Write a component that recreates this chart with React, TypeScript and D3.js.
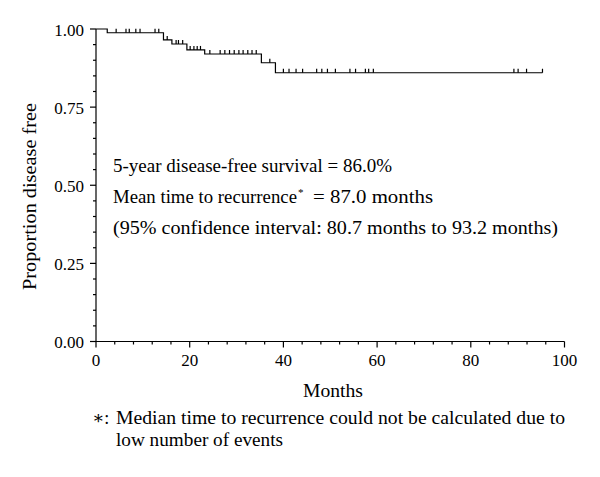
import React from "react";
import * as d3 from "d3";

// Kaplan-Meier steps: time of each drop and proportion after it
const stepTimes = [0, 2.4, 14.4, 16.2, 19.4, 23.2, 35.3, 38.3];
const stepValues = [1.0, 0.988, 0.965, 0.952, 0.933, 0.92, 0.892, 0.86];
// censored observations (tick marks)
const censorTimes = [
  4.3, 6.4, 7.1, 8.5, 9.4, 12.6, 13.4, 15.2, 17.1, 17.6, 18.5, 20.1, 20.9,
  21.6, 22.3, 24.3, 26.5, 27.5, 28.5, 29.5, 30.5, 31.4, 32.4, 33.3, 34.2,
  37.1, 40.0, 41.2, 42.7, 44.1, 47.1, 48.2, 49.4, 51.1, 54.2, 55.4, 57.5,
  58.2, 59.2, 89.2, 90.1, 91.9, 95.3,
];
const endTime = 95.3;

const xTicks = [0, 20, 40, 60, 80, 100];
const yTicks = [0, 0.25, 0.5, 0.75, 1.0];

const font = "'Liberation Serif', 'DejaVu Serif', serif";

export default function App() {
  const W = 600;
  const H = 477;
  const x = d3.scaleLinear().domain([0, 100]).range([96, 564.5]);
  const y = d3.scaleLinear().domain([0, 1]).range([341.5, 29]);

  const valueAt = (t: number) => {
    let v = stepValues[0];
    stepTimes.forEach((s, i) => {
      if (t >= s) v = stepValues[i];
    });
    return v;
  };

  const pts: [number, number][] = stepTimes.map((t, i) => [t, stepValues[i]]);
  pts.push([endTime, stepValues[stepValues.length - 1]]);
  const line = d3
    .line<[number, number]>()
    .x((d) => x(d[0]))
    .y((d) => y(d[1]))
    .curve(d3.curveStepAfter);

  const xMinor = d3.range(0, 101, 4).filter((v) => v % 20 !== 0);
  const yMinor = d3.range(0, 1.0001, 0.05).filter((v) => Math.abs(v * 4 - Math.round(v * 4)) > 1e-6);

  return (
    <svg width={W} height={H} style={{ position: "absolute", left: 0, top: 0 }}>
      <rect width={W} height={H} fill="#fff" />
      <g stroke="#000" strokeWidth={1.2} fill="none">
        {/* axes */}
        <line x1={x(0)} x2={x(0)} y1={y(1)} y2={y(0)} />
        <line x1={x(0)} x2={x(100)} y1={y(0)} y2={y(0)} />
        {yTicks.map((t) => (
          <line key={"yt" + t} x1={x(0) - 6} x2={x(0)} y1={y(t)} y2={y(t)} />
        ))}
        {yMinor.map((t) => (
          <line key={"ym" + t} x1={x(0) - 3} x2={x(0)} y1={y(t)} y2={y(t)} />
        ))}
        {xTicks.map((t) => (
          <line key={"xt" + t} x1={x(t)} x2={x(t)} y1={y(0)} y2={y(0) + 6} />
        ))}
        {xMinor.map((t) => (
          <line key={"xm" + t} x1={x(t)} x2={x(t)} y1={y(0)} y2={y(0) + 3} />
        ))}
        {/* survival curve */}
        <path d={line(pts) || ""} />
        {censorTimes.map((t, i) => (
          <line key={"c" + i} x1={x(t)} x2={x(t)} y1={y(valueAt(t))} y2={y(valueAt(t)) - 4} />
        ))}
      </g>
      <g fontFamily={font} fill="#000">
        {yTicks.map((t) => (
          <text key={"yl" + t} x={x(0) - 12} y={y(t) + 6.5} fontSize={17} textAnchor="end">
            {t.toFixed(2)}
          </text>
        ))}
        {xTicks.map((t) => (
          <text key={"xl" + t} x={x(t)} y={366} fontSize={17} textAnchor="middle">
            {t}
          </text>
        ))}
        <text x={303} y={397} fontSize={18} textLength={60} lengthAdjust="spacingAndGlyphs">
          Months
        </text>
        <text
          transform={`translate(36, 290) rotate(-90)`}
          fontSize={18}
          textLength={187}
          lengthAdjust="spacingAndGlyphs"
        >
          Proportion disease free
        </text>
        <text x={113} y={172} fontSize={18} textLength={279} lengthAdjust="spacingAndGlyphs">
          5-year disease-free survival = 86.0%
        </text>
        <text x={113} y={203} fontSize={18} textLength={184} lengthAdjust="spacingAndGlyphs">
          Mean time to recurrence
        </text>
        <text x={298} y={196} fontSize={11}>
          *
        </text>
        <text x={313} y={203} fontSize={18} textLength={120} lengthAdjust="spacingAndGlyphs">
          = 87.0 months
        </text>
        <text x={113} y={234} fontSize={18} textLength={445} lengthAdjust="spacingAndGlyphs">
          (95% confidence interval: 80.7 months to 93.2 months)
        </text>
        <text x={92} y={424} fontSize={18}>
          ∗:
        </text>
        <text x={116} y={424} fontSize={18} textLength={449} lengthAdjust="spacingAndGlyphs">
          Median time to recurrence could not be calculated due to
        </text>
        <text x={116} y={446} fontSize={18} textLength={167} lengthAdjust="spacingAndGlyphs">
          low number of events
        </text>
      </g>
    </svg>
  );
}
